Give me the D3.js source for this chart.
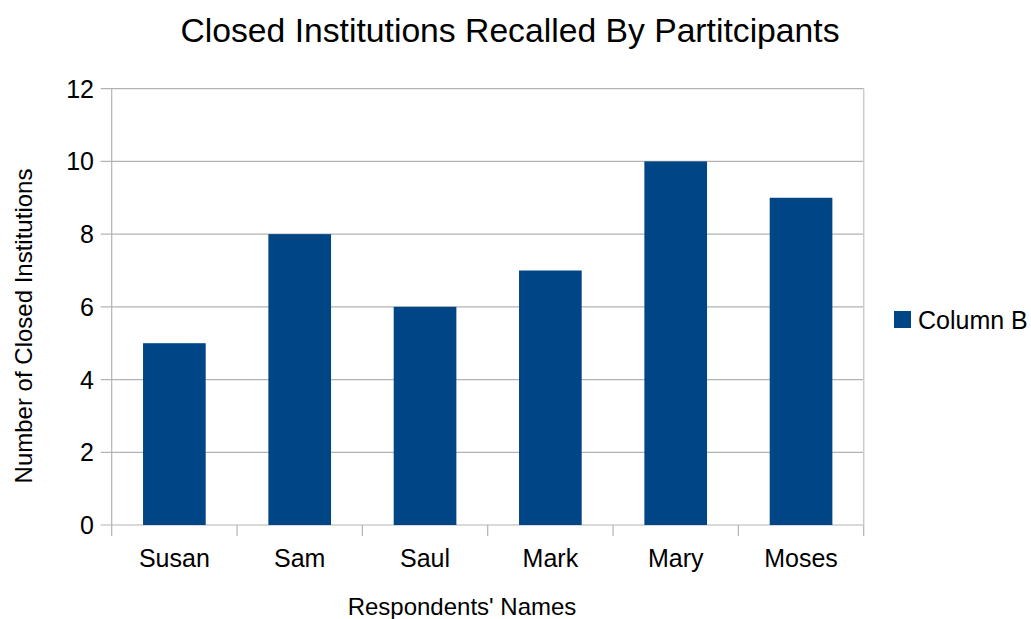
<!DOCTYPE html>
<html>
<head>
<meta charset="utf-8">
<script src="https://cdn.jsdelivr.net/npm/d3@7"></script>
<style>
  html, body { margin: 0; padding: 0; background: #fff; }
  svg { display: block; font-family: "Liberation Sans", Arial, sans-serif; }
</style>
</head>
<body>
<svg id="chart" width="1031" height="619"></svg>
<script>
const categories = ["Susan", "Sam", "Saul", "Mark", "Mary", "Moses"];
const values = [5, 8, 6, 7, 10, 9];
const yTicks = [0, 2, 4, 6, 8, 10, 12];
const seriesName = "Column B";
const titleText = "Closed Institutions Recalled By Partitcipants";
const xTitle = "Respondents' Names";
const yTitle = "Number of Closed Institutions";

(function () {
const svg = d3.select("#chart");
const pLeft = 111.7, pRight = 863.7, pTop = 88.7, pBottom = 525;
const barColor = "#004586";
const gridColor = "#b3b3b3";

const x = d3.scaleBand().domain(categories).range([pLeft, pRight]).paddingInner(0.5).paddingOuter(0.25);
const xb = d3.scaleLinear().domain([0, categories.length]).range([pLeft, pRight]);
const y = d3.scaleLinear().domain([0, 12]).range([pBottom, pTop]);

// horizontal grid + left ticks
svg.append("g").selectAll("line").data(yTicks).join("line")
  .attr("x1", pLeft - 11).attr("x2", pRight)
  .attr("y1", d => y(d)).attr("y2", d => y(d))
  .attr("stroke", gridColor).attr("stroke-width", 1.2);

// bars
svg.append("g").selectAll("rect").data(values).join("rect")
  .attr("x", (d, i) => x(categories[i]))
  .attr("width", x.bandwidth())
  .attr("y", d => y(d))
  .attr("height", d => y(0) - y(d))
  .attr("fill", barColor);

// left and right axis lines
svg.append("line").attr("x1", pLeft).attr("x2", pLeft).attr("y1", pTop).attr("y2", pBottom + 11)
  .attr("stroke", gridColor).attr("stroke-width", 1.2);
svg.append("line").attr("x1", pRight).attr("x2", pRight).attr("y1", pTop).attr("y2", pBottom)
  .attr("stroke", "#cccccc").attr("stroke-width", 1.5);

// bottom ticks at category boundaries
svg.append("g").selectAll("line").data(d3.range(1, categories.length + 1)).join("line")
  .attr("x1", d => xb(d)).attr("x2", d => xb(d))
  .attr("y1", pBottom).attr("y2", pBottom + 11)
  .attr("stroke", gridColor).attr("stroke-width", 1.2);

// y tick labels
svg.append("g").selectAll("text").data(yTicks).join("text")
  .attr("x", 94).attr("y", d => y(d)).attr("dy", "0.36em")
  .attr("text-anchor", "end").attr("font-size", 25).attr("fill", "#000")
  .text(d => d);

// x tick labels
svg.append("g").selectAll("text").data(categories).join("text")
  .attr("x", d => x(d) + x.bandwidth() / 2).attr("y", 567)
  .attr("text-anchor", "middle").attr("font-size", 25).attr("fill", "#000")
  .text(d => d);

// title
svg.append("text").attr("x", 510).attr("y", 42).attr("text-anchor", "middle")
  .attr("font-size", 33.7).attr("fill", "#000").text(titleText);

// axis titles
svg.append("text").attr("x", 462).attr("y", 615).attr("text-anchor", "middle")
  .attr("font-size", 24).attr("fill", "#000").text(xTitle);
svg.append("text").attr("transform", "translate(32,326) rotate(-90)")
  .attr("text-anchor", "middle").attr("font-size", 24).attr("fill", "#000").text(yTitle);

// legend
svg.append("rect").attr("x", 894).attr("y", 311).attr("width", 17).attr("height", 17).attr("fill", barColor);
svg.append("text").attr("x", 918).attr("y", 328.5).attr("font-size", 25).attr("fill", "#000").text(seriesName);
})();
</script>
</body>
</html>
